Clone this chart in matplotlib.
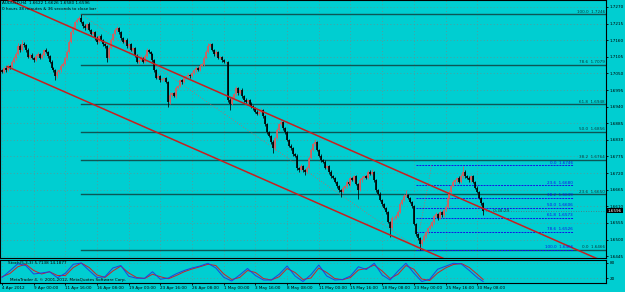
import matplotlib
matplotlib.use("Agg")
import matplotlib.pyplot as plt
import numpy as np

# AUDUSD H4 candles, 4 Apr 2012 08:00 .. 30 May 2012
first_open = 1.7060
closes = [
    1.7055, 1.7068, 1.7061, 1.7075, 1.7071, 1.7088, 1.7101, 1.7114, 1.7141, 1.7128,
    1.7147, 1.7144, 1.7128, 1.7104, 1.7111, 1.7101, 1.7094, 1.7108, 1.7114, 1.7101,
    1.7111, 1.7128, 1.7121, 1.7108, 1.7088, 1.7068, 1.7061, 1.7041, 1.7055, 1.7061,
    1.7075, 1.7081, 1.7101, 1.7121, 1.7154, 1.7187, 1.7200, 1.7220, 1.7227, 1.7233,
    1.7220, 1.7207, 1.7200, 1.7214, 1.7194, 1.7181, 1.7187, 1.7167, 1.7154, 1.7174,
    1.7161, 1.7147, 1.7141, 1.7101, 1.7134, 1.7161, 1.7181, 1.7194, 1.7200, 1.7187,
    1.7167, 1.7154, 1.7161, 1.7141, 1.7147, 1.7128, 1.7134, 1.7108, 1.7088, 1.7094,
    1.7101, 1.7088, 1.7108, 1.7128, 1.7121, 1.7114, 1.7094, 1.7061, 1.7035, 1.7041,
    1.7028, 1.7031, 1.7035, 1.7022, 1.6955, 1.6979, 1.6985, 1.6975, 1.7002, 1.7008,
    1.7028, 1.7022, 1.7035, 1.7041, 1.7045, 1.7041, 1.7051, 1.7061, 1.7068, 1.7061,
    1.7075, 1.7081, 1.7101, 1.7121, 1.7141, 1.7147, 1.7128, 1.7114, 1.7121, 1.7101,
    1.7104, 1.7094, 1.7088, 1.7088, 1.6962, 1.6949, 1.6969, 1.6982, 1.7002, 1.6985,
    1.6995, 1.6975, 1.6962, 1.6955, 1.6962, 1.6949, 1.6942, 1.6935, 1.6922, 1.6916,
    1.6922, 1.6929, 1.6909, 1.6883, 1.6856, 1.6843, 1.6823, 1.6803, 1.6836, 1.6863,
    1.6883, 1.6889, 1.6869, 1.6856, 1.6830, 1.6810, 1.6803, 1.6783, 1.6777, 1.6737,
    1.6730, 1.6744, 1.6730, 1.6724, 1.6737, 1.6770, 1.6797, 1.6816, 1.6823, 1.6797,
    1.6777, 1.6763, 1.6757, 1.6737, 1.6744, 1.6724, 1.6710, 1.6704, 1.6691, 1.6677,
    1.6664, 1.6658, 1.6671, 1.6677, 1.6691, 1.6684, 1.6704, 1.6697, 1.6710, 1.6684,
    1.6664, 1.6697, 1.6704, 1.6710, 1.6704, 1.6724, 1.6717, 1.6724, 1.6697, 1.6664,
    1.6651, 1.6631, 1.6618, 1.6605, 1.6591, 1.6558, 1.6538, 1.6571, 1.6571, 1.6578,
    1.6591, 1.6618, 1.6631, 1.6644, 1.6648, 1.6638, 1.6624, 1.6611, 1.6552, 1.6519,
    1.6505, 1.6485, 1.6499, 1.6512, 1.6525, 1.6538, 1.6545, 1.6558, 1.6578, 1.6585,
    1.6571, 1.6591, 1.6581, 1.6598, 1.6608, 1.6638, 1.6658, 1.6677, 1.6691, 1.6697,
    1.6704, 1.6691, 1.6710, 1.6724, 1.6710, 1.6704, 1.6697, 1.6710, 1.6691, 1.6671,
    1.6658, 1.6638, 1.6622, 1.6596,
]
# wick lengths in pips above / below the body
upper_wick = [
    4, 6, 3, 5, 4, 6, 5, 7, 10, 5, 14, 6, 4, 5, 3, 6, 4, 5, 7, 3,
    5, 4, 6, 3, 4, 5, 3, 4, 6, 3, 5, 6, 4, 8, 7, 5, 6, 4, 5, 6,
    13, 4, 5, 3, 6, 4, 5, 3, 6, 4, 5, 3, 4, 4, 6, 5, 4, 6, 7, 3,
    4, 5, 3, 6, 4, 5, 3, 4, 6, 3, 5, 4, 6, 5, 3, 4, 5, 3, 4, 6,
    3, 5, 4, 3, 3, 8, 5, 4, 6, 5, 4, 5, 3, 4, 6, 3, 5, 4, 6, 3,
    5, 4, 6, 5, 10, 4, 5, 3, 6, 4, 5, 3, 4, 3, 3, 6, 5, 4, 5, 3,
    4, 6, 3, 5, 4, 3, 5, 4, 3, 6, 4, 5, 3, 4, 3, 5, 4, 6, 5, 7,
    4, 7, 3, 5, 4, 3, 5, 4, 3, 5, 4, 6, 3, 4, 5, 6, 7, 5, 10, 3,
    4, 5, 3, 6, 4, 3, 5, 4, 3, 4, 3, 5, 6, 4, 5, 3, 6, 4, 5, 3,
    4, 6, 5, 3, 4, 6, 5, 10, 3, 4, 3, 5, 4, 3, 4, 3, 5, 6, 4, 5,
    6, 5, 4, 6, 16, 4, 3, 4, 3, 4, 3, 5, 4, 6, 5, 4, 6, 5, 4, 6,
    4, 6, 5, 4, 5, 6, 5, 4, 6, 5, 4, 6, 7, 21, 5, 4, 6, 5, 3, 4,
    5, 4, 3, 4,
]
lower_wick = [
    5, 4, 6, 4, 5, 3, 4, 5, 4, 6, 3, 5, 6, 4, 5, 4, 6, 3, 5, 4,
    3, 5, 4, 6, 5, 4, 6, 13, 5, 4, 6, 3, 4, 5, 3, 4, 5, 3, 4, 5,
    4, 6, 5, 4, 3, 5, 4, 6, 5, 3, 4, 5, 6, 13, 4, 3, 5, 4, 3, 6,
    5, 3, 4, 6, 5, 4, 6, 5, 4, 6, 3, 5, 4, 3, 5, 4, 6, 5, 4, 3,
    5, 4, 6, 5, 16, 5, 6, 4, 5, 3, 4, 6, 5, 4, 3, 5, 4, 3, 5, 4,
    3, 4, 5, 4, 3, 5, 4, 6, 5, 4, 3, 6, 4, 5, 6, 20, 5, 4, 6, 5,
    4, 5, 6, 4, 5, 4, 6, 5, 4, 5, 3, 4, 5, 6, 5, 4, 6, 16, 5, 4,
    3, 4, 5, 6, 4, 5, 6, 5, 4, 6, 5, 4, 6, 10, 5, 4, 3, 4, 5, 4,
    5, 6, 4, 5, 4, 6, 5, 4, 5, 6, 5, 17, 4, 3, 5, 4, 6, 4, 5, 4,
    30, 4, 5, 3, 4, 5, 4, 3, 5, 6, 5, 4, 6, 5, 6, 4, 30, 5, 6, 4,
    3, 4, 5, 4, 3, 5, 4, 6, 5, 7, 6, 19, 5, 4, 6, 5, 4, 5, 6, 4,
    5, 4, 6, 5, 4, 3, 4, 5, 4, 6, 5, 4, 3, 5, 6, 4, 5, 6, 5, 4,
    5, 4, 6, 16,
]

date_labels = ["4 Apr 2012", "9 Apr 00:00", "11 Apr 16:00", "16 Apr 08:00",
               "19 Apr 00:00", "23 Apr 16:00", "26 Apr 08:00", "1 May 00:00",
               "3 May 16:00", "8 May 08:00", "11 May 00:00", "15 May 16:00",
               "18 May 08:00", "23 May 00:00", "25 May 16:00", "30 May 08:00"]
bars_per_label = 16
price_ticks = [1.7270, 1.7215, 1.7160, 1.7105, 1.7050, 1.6995, 1.6940, 1.6885,
               1.6830, 1.6775, 1.6720, 1.6665, 1.6610, 1.6555, 1.6500, 1.6445]

fib_levels = [0.0, 23.6, 38.2, 50.0, 61.8, 78.6, 100.0]
big_fib = (40, 1.7246, 211, 1.6466)      # (bar, price) high -> low
small_fib = (209, 1.6466, 217, 1.6746)   # low -> high
channel_upper = (2.5, 1.7296, 305, 1.6424)
channel_offset = -0.0223

# Stochastic (5,3,3), every 4th bar
stoch_main = [22, 49, 77, 70, 36, 40, 45, 21, 39, 75, 80, 50, 22, 25, 60, 70,
              27, 19, 19, 45, 15, 20, 37, 50, 60, 68, 79, 60, 23, 8, 32, 58,
              30, 12, 12, 35, 68, 28, 6, 33, 72, 28, 12, 14, 28, 65, 54, 79,
              32, 12, 48, 79, 40, 6, 15, 55, 67, 79, 76, 50, 22, 6]
stoch_signal = [25, 38, 65, 75, 50, 36, 45, 30, 30, 62, 80, 62, 32, 22, 48, 68,
                40, 22, 18, 35, 25, 17, 30, 45, 56, 65, 75, 70, 36, 14, 22, 50,
                42, 18, 12, 25, 58, 42, 14, 20, 60, 42, 18, 13, 22, 52, 58, 72,
                48, 18, 35, 70, 55, 16, 10, 40, 60, 74, 78, 62, 35, 14]

BG = "#00CED1"
GRID = "#6b8e8e"
BULL = "#d95c5c"
BEAR = "#000000"
FIBC = "#0d5656"
FS = 3.0

W, H = 625, 292
PX, X0 = 1.98, 2.0           # pixels per bar, pixel of bar 0
xmin, xmax = -X0 / PX, (606 - X0) / PX

fig = plt.figure(figsize=(W / 100, H / 100), dpi=100, facecolor=BG)
ax = fig.add_axes([0, (H - 258) / H, 606 / W, 258 / H], facecolor=BG)
axs = fig.add_axes([0, (H - 283) / H, 606 / W, 23 / H], facecolor=BG)

# candles
c = np.array(closes)
o = np.array([first_open] + closes[:-1])
hi = np.maximum(o, c) + np.array(upper_wick) / 1e4
lo = np.minimum(o, c) - np.array(lower_wick) / 1e4
idx = np.arange(len(c))
up = c >= o
cols = np.where(up, BULL, BEAR).tolist()
bot = np.minimum(o, c)
top = np.maximum(np.maximum(o, c), bot + 0.00012)
ax.vlines(idx, lo, hi, colors=cols, lw=0.55, zorder=3)
ax.vlines(idx, bot, top, colors=cols, lw=1.2, zorder=3)

ax.set_xlim(xmin, xmax)
ax.set_ylim(1.6439, 1.7293)

# grid
label_pos = [k * bars_per_label for k in range(len(date_labels))]
ax.set_xticks(label_pos)
ax.set_yticks(price_ticks)
ax.grid(True, ls=(0, (1, 3)), color=GRID, lw=0.6, zorder=0)
ax.tick_params(axis="x", length=0, labelbottom=False)
ax.yaxis.tick_right()
ax.set_yticklabels([f"{p:.4f}" for p in price_ticks])
ax.tick_params(axis="y", length=1.5, width=0.6, labelsize=FS, pad=1.0, colors="black")
for s in ax.spines.values():
    s.set_color("black")
    s.set_linewidth(0.8)

# big fibonacci (ray to the right)
b0, p_hi, b1, p_lo = big_fib
for lv in fib_levels:
    p = p_lo + (p_hi - p_lo) * lv / 100
    ax.plot([b0, xmax], [p, p], color=FIBC, lw=1.0, zorder=2)
    ax.text((605 - X0) / PX, p + 0.0002, f"{lv:.1f}  {p:.4f}", fontsize=FS,
            ha="right", va="bottom", color="#0a3a3a", zorder=5)
ax.plot([b0, b1], [p_hi, p_lo], color="#c86464", lw=0.6, ls=(0, (1, 2)), zorder=2)

# small fibonacci
s0, q_lo, s1, q_hi = small_fib
s_end = (573 - X0) / PX
for lv in fib_levels:
    p = q_hi - (q_hi - q_lo) * lv / 100
    ax.plot([s0, s_end], [p, p], color="#1414e6", lw=0.7, ls=(0, (2, 1)), zorder=2)
    ax.text(s_end, p + 0.0002, f"{lv:.1f}  {p:.4f}", fontsize=FS,
            ha="right", va="bottom", color="#1414e6", zorder=5)
ax.plot([s0, s1], [q_lo, q_hi], color="#c86464", lw=0.6, ls=(0, (1, 2)), zorder=2)

# channel
cx0, cy0, cx1, cy1 = channel_upper
ax.plot([cx0, cx1], [cy0, cy1], color="#c81e1e", lw=1.1, zorder=4)
ax.plot([cx0, cx1], [cy0 + channel_offset, cy1 + channel_offset], color="#c81e1e", lw=1.1, zorder=4)

# current price
last = closes[-1]
ax.plot([idx[-1], xmax], [last, last], color="#5a6e6e", lw=0.6, ls=(0, (1, 2)), zorder=2)
ax.text(1.003, last, f"{last:.4f}", transform=ax.get_yaxis_transform(), fontsize=FS,
        va="center", ha="left", color="white",
        bbox=dict(boxstyle="square,pad=0.12", fc="black", ec="none"), zorder=6)
ax.text(idx[-1] + 2, last - 0.0003, "<- 0:38:29", fontsize=FS, color="#0a3a3a", va="center")

# header
fig.text(2 / W, 1 - 1.5 / H, "AUDUSD,H4  1.6622 1.6626 1.6580 1.6596", fontsize=FS,
         va="top", ha="left")
fig.text(2 / W, 1 - 7.0 / H, "0 hours 38 minutes & 36 seconds to close bar", fontsize=FS,
         va="top", ha="left")

# stochastic panel
sidx = list(range(0, len(closes) - 1, 4)) + [len(closes) - 1]
axs.plot(sidx, stoch_signal, color="#d02020", lw=0.7, zorder=3)
axs.plot(sidx, stoch_main, color="#2040e0", lw=0.7, zorder=3)
axs.set_xlim(xmin, xmax)
axs.set_ylim(0, 92)
axs.set_yticks([80, 20])
axs.yaxis.tick_right()
axs.tick_params(axis="y", length=1.5, width=0.6, labelsize=FS, pad=1.0)
axs.set_xticks(label_pos)
axs.set_xticklabels(date_labels)
for t in axs.get_xticklabels():
    t.set_horizontalalignment("left")
axs.tick_params(axis="x", length=1.5, width=0.6, labelsize=FS, pad=1)
axs.grid(True, ls=(0, (1, 3)), color=GRID, lw=0.6, zorder=0)
for s in axs.spines.values():
    s.set_color("black")
    s.set_linewidth(0.8)
axs.text(3, 90, "Stoch(5,3,3) 5.7138 14.1877", fontsize=FS, va="top", ha="left")
axs.text(4, 6, "MetaTrader 4, \u00a9 2001-2012, MetaQuotes Software Corp.", fontsize=FS,
         va="bottom", ha="left")

fig.savefig("out.png", dpi=100, facecolor=BG)
